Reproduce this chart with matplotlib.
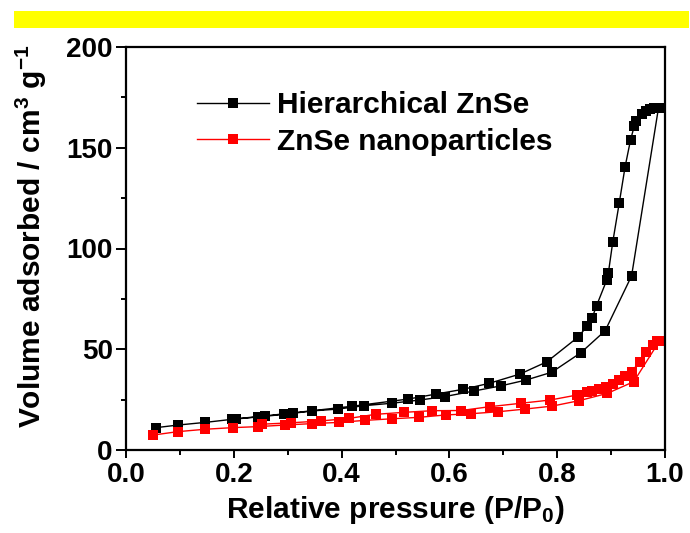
import matplotlib
matplotlib.use("Agg")
import matplotlib.pyplot as plt
from matplotlib.patches import Rectangle
from matplotlib.ticker import MultipleLocator

# Hierarchical ZnSe: adsorption branch then desorption branch
hier_x = [0.056, 0.097, 0.147, 0.196, 0.245, 0.294, 0.346, 0.393, 0.442, 0.493,
          0.545, 0.591, 0.646, 0.695, 0.742, 0.790, 0.844, 0.889, 0.938, 0.988,
          0.980, 0.972, 0.965, 0.957, 0.946, 0.943, 0.936, 0.926, 0.915, 0.903,
          0.895, 0.892, 0.873, 0.865, 0.856, 0.838, 0.781, 0.731, 0.674, 0.625,
          0.576, 0.524, 0.419, 0.309, 0.257, 0.205]
hier_y = [11.1, 12.4, 13.7, 15.2, 16.4, 17.7, 19.4, 20.3, 22.0, 23.2,
          24.8, 26.5, 29.3, 31.8, 34.7, 38.6, 48.3, 59.2, 86.4, 169.9,
          169.9, 169.4, 168.4, 166.7, 163.1, 160.8, 153.8, 140.6, 122.4, 103.1,
          88.0, 84.4, 71.6, 65.7, 61.5, 55.9, 43.8, 37.7, 33.1, 30.1,
          27.8, 25.3, 21.7, 18.4, 16.9, 15.5]

# ZnSe nanoparticles: adsorption branch then desorption branch
nano_x = [0.050, 0.096, 0.147, 0.198, 0.245, 0.295, 0.346, 0.395, 0.443, 0.494,
          0.543, 0.593, 0.640, 0.691, 0.740, 0.791, 0.841, 0.893, 0.942, 0.990,
          0.986, 0.977, 0.965, 0.953, 0.938, 0.926, 0.915, 0.903, 0.891, 0.878,
          0.864, 0.855, 0.837, 0.787, 0.733, 0.675, 0.622, 0.568, 0.516, 0.463,
          0.414, 0.361, 0.306, 0.252]
nano_y = [7.4, 9.1, 10.3, 11.1, 11.6, 12.4, 13.1, 13.7, 14.7, 15.5,
          16.2, 17.4, 18.0, 19.0, 20.3, 21.8, 24.5, 28.1, 33.9, 54.2,
          54.2, 52.1, 48.8, 43.8, 38.9, 36.9, 34.7, 32.8, 31.4, 30.1,
          29.3, 28.6, 27.3, 24.8, 23.2, 21.5, 19.6, 19.5, 18.7, 17.7,
          15.7, 14.4, 13.5, 12.8]

labels = ["Hierarchical ZnSe", "ZnSe nanoparticles"]
x_ticks = [0.0, 0.2, 0.4, 0.6, 0.8, 1.0]
y_ticks = [0, 50, 100, 150, 200]

plt.rcParams['font.family'] = ['Liberation Sans', 'DejaVu Sans']
plt.rcParams['font.weight'] = 'bold'
plt.rcParams['mathtext.fontset'] = 'custom'
plt.rcParams['mathtext.rm'] = 'Liberation Sans:bold'
plt.rcParams['mathtext.it'] = 'Liberation Sans:bold'
plt.rcParams['mathtext.bf'] = 'Liberation Sans:bold'
plt.rcParams['mathtext.default'] = 'rm'

fig = plt.figure(figsize=(6.9, 5.33), dpi=100)
ax = fig.add_axes([126/690, 1 - 450/533, (665-126)/690, (450-47)/533])

fig.patches.append(Rectangle((14/690, 1 - 28/533), 675/690, 17/533,
                             transform=fig.transFigure, facecolor='#FFFF00',
                             edgecolor='none', zorder=0))

ax.plot(hier_x, hier_y, color='black', lw=1.0, marker='s', ms=6.5,
        markeredgewidth=0, label=labels[0])
ax.plot(nano_x, nano_y, color='#FF0000', lw=1.0, marker='s', ms=6.5,
        markeredgewidth=0, label=labels[1])

ax.set_xlim(0, 1.0)
ax.set_ylim(0, 200)
ax.set_xticks(x_ticks)
ax.set_xticklabels([f"{v:.1f}" for v in x_ticks])
ax.set_yticks(y_ticks)
ax.set_yticklabels([str(v) for v in y_ticks])
ax.xaxis.set_minor_locator(MultipleLocator(0.1))
ax.yaxis.set_minor_locator(MultipleLocator(25))

for s in ax.spines.values():
    s.set_linewidth(1.6)
ax.tick_params(axis='both', which='both', direction='out', width=1.4,
               top=False, right=False, labelsize=20)
ax.tick_params(axis='x', which='major', length=6, pad=3)
ax.tick_params(axis='x', which='minor', length=3.3)
ax.tick_params(axis='y', which='major', length=7.5, pad=2)
ax.tick_params(axis='y', which='minor', length=3.3)
for lab in ax.get_xticklabels() + ax.get_yticklabels():
    lab.set_fontweight('bold')

ax.set_xlabel(r"Relative pressure (P/P$_{0}$)", fontsize=21.5, fontweight='bold')
ax.set_ylabel(r"Volume adsorbed / cm$^{3}$ g$^{-1}$", fontsize=21.5, fontweight='bold')
ax.xaxis.set_label_coords(0.5, -0.108)
ax.yaxis.set_label_coords(-0.143, 0.53)

leg = ax.legend(loc='upper left', bbox_to_anchor=(0.132, 0.89), frameon=False,
                handlelength=2.4, handletextpad=0.27,
                borderpad=0, borderaxespad=0, labelspacing=0.28,
                prop={'weight': 'bold', 'size': 21.5})

fig.savefig("out.png", dpi=100)
